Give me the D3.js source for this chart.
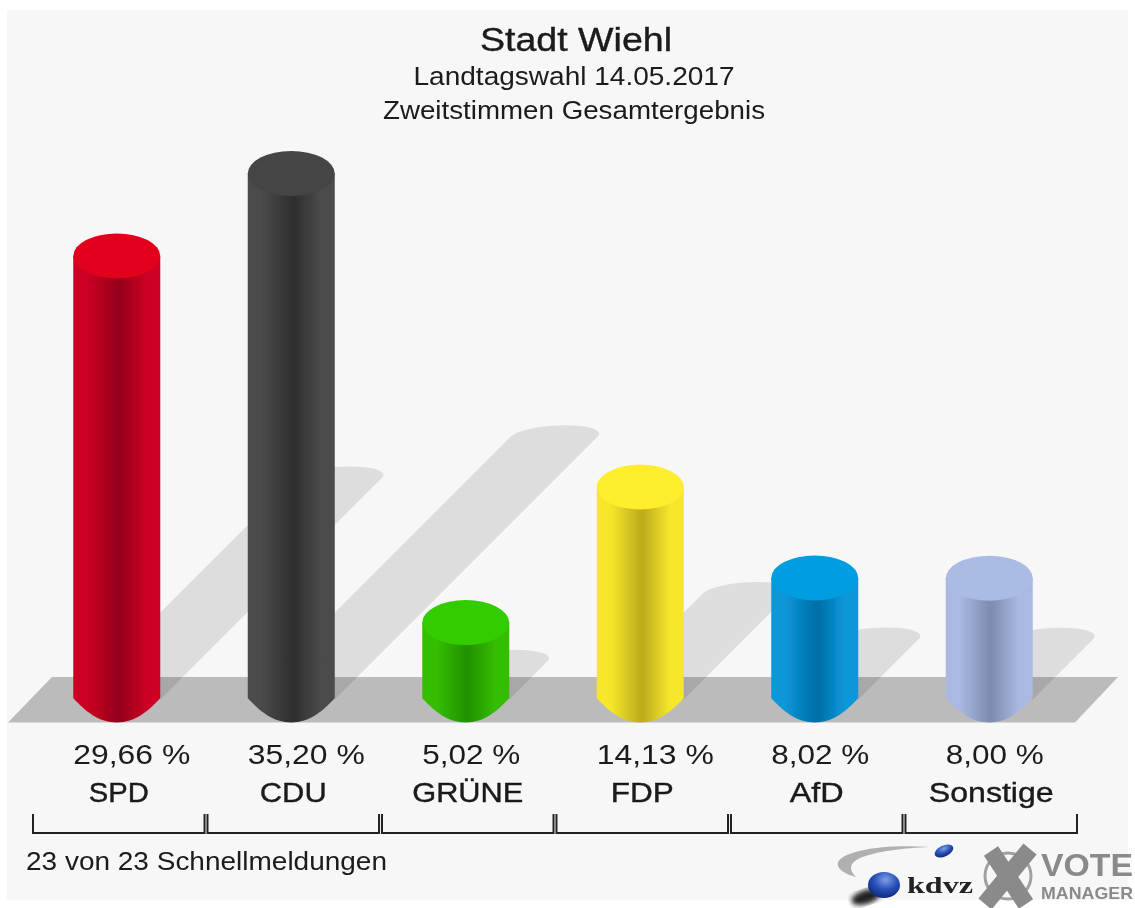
<!DOCTYPE html>
<html>
<head>
<meta charset="utf-8">
<script src="https://cdn.jsdelivr.net/npm/d3@7"></script>
<style>
    html, body { margin: 0; padding: 0; background: #fff; }
    svg { display: block; }
    text { font-family: "Liberation Sans", Arial, sans-serif; fill: #1a1a1a; }
</style>
</head>
<body>
<div id="chart"></div>
<script>
// values
const parties = ["SPD", "CDU", "GRÜNE", "FDP", "AfD", "Sonstige"];
const shares = [29.66, 35.20, 5.02, 14.13, 8.02, 8.00];
const titleLines = ["Stadt Wiehl", "Landtagswahl 14.05.2017", "Zweitstimmen Gesamtergebnis"];
const footerText = "23 von 23 Schnellmeldungen";

// cylinder colours: top, side edge, side centre
const capColors = ["#e2001f", "#454545", "#33cc00", "#ffee2e", "#009ee0", "#aabbe6"];
const edgeColors = ["#cc0022", "#4b4b4b", "#35bd02", "#f6e72b", "#0a96d8", "#a9b9e2"];
const darkColors = ["#97001a", "#2f2f2f", "#229300", "#bfad1e", "#0070a8", "#7f8db0"];

// text widths in the picture, its lettering runs wider than Liberation
const partyWidths = [60, 67, 111, 63, 54, 125];
const subtitleWidths = [321, 382];

const width = 1135, height = 908;
const baseY = 699.5;  // centre of the bottom ellipse
const rx = 43.5, ry = 22.5;

const svg = d3.select("#chart").append("svg")
    .attr("width", width)
    .attr("height", height);

const defs = svg.append("defs");

//the reference is an upscaled small image, everything is a bit soft
defs.append("filter").attr("id", "page")
    .attr("filterUnits", "userSpaceOnUse")
    .attr("x", 0).attr("y", 0).attr("width", width).attr("height", height)
    .append("feGaussianBlur").attr("stdDeviation", 0.7);
defs.append("filter").attr("id", "soft")
    .append("feGaussianBlur").attr("stdDeviation", 2.5);

svg.append("rect")
    .attr("x", 7).attr("y", 10)
    .attr("width", 1121).attr("height", 890)
    .attr("fill", "#f7f7f7");

const root = svg.append("g").attr("filter", "url(#page)");

//scales
const xBand = d3.scaleBand()
    .domain(parties)
    .range([31.5, 1075.5])
    .paddingInner(0.017);

const yScale = d3.scaleLinear()
    .domain([0, 35.2])
    .range([697.3, 173.5]);

const colorIndex = d3.scaleOrdinal().domain(parties).range(d3.range(parties.length));
const barCenter = d => xBand(d) + xBand.bandwidth() / 2 - 0.5;
const shareOf = d => shares[parties.indexOf(d)];
const fmt = d3.formatLocale({ decimal: ",", thousands: ".", grouping: [3], currency: ["", "€"] }).format(".2f");

//floor band
root.append("path")
    .attr("d", "M8,722.5 L52,677 L1118,677 L1075,722.5 Z")
    .attr("fill", "#bbbbbb");

//shadows, the cylinder outline sheared to the right
const outline = h => `M${-rx},${-h} A${rx},${ry} 0 0 1 ${rx},${-h} L${rx},0 L${-rx},0 Z`;

root.append("g").selectAll("path")
    .data(parties)
    .join("path")
    .attr("d", d => outline(baseY - yScale(shareOf(d))))
    .attr("transform", d => `translate(${barCenter(d)},${baseY}) matrix(1,0,-0.5,0.5,0,0)`)
    .attr("fill", "#000")
    .attr("fill-opacity", 0.1);

//gradients
parties.forEach((p, i) => {
    let gradient = defs.append("linearGradient").attr("id", `side-${i}`);
    [[0, edgeColors[i]], [0.16, edgeColors[i]], [0.5, darkColors[i]], [0.54, darkColors[i]], [0.84, edgeColors[i]], [1, edgeColors[i]]]
        .forEach(s => gradient.append("stop").attr("offset", s[0]).attr("stop-color", s[1]));
});

const bars = root.append("g").selectAll("g")
    .data(parties)
    .join("g")
    .attr("transform", d => `translate(${barCenter(d)},0)`);

bars.append("path")
    .attr("d", d => `M${-rx},${yScale(shareOf(d))} L${rx},${yScale(shareOf(d))} L${rx},698 `
        + `C32,711 18,722.5 0,722.5 C-18,722.5 -32,711 ${-rx},698 Z`)
    .attr("fill", d => `url(#side-${colorIndex(d)})`);

bars.append("ellipse")
    .attr("cy", d => yScale(shareOf(d)))
    .attr("rx", rx)
    .attr("ry", ry)
    .attr("fill", d => capColors[colorIndex(d)]);

//value labels start at the bar's left edge
root.append("g").selectAll("text")
    .data(parties)
    .join("text")
    .attr("x", d => barCenter(d) - 43.5)
    .attr("y", 764)
    .attr("font-size", 27)
    .attr("textLength", d => (shareOf(d) >= 10 ? 117 : 98))
    .attr("lengthAdjust", "spacingAndGlyphs")
    .text(d => `${fmt(shareOf(d))} %`);

root.append("g").selectAll("text")
    .data(parties)
    .join("text")
    .attr("x", (d, i) => barCenter(d) + 2 - partyWidths[i] / 2)
    .attr("y", 802)
    .attr("font-size", 27.5)
    .attr("stroke", "#1a1a1a")
    .attr("stroke-width", 0.4)
    .attr("textLength", (d, i) => partyWidths[i])
    .attr("lengthAdjust", "spacingAndGlyphs")
    .text(d => d);

//brackets
root.append("g").selectAll("path")
    .data(parties)
    .join("path")
    .attr("d", d => {
        let x0 = xBand(d) + 1.5, x1 = xBand(d) + xBand.bandwidth() + 1.5;
        return `M${x0},814 V833 H${x1} V814`;
    })
    .attr("fill", "none")
    .attr("stroke", "#222")
    .attr("stroke-width", 2);

//titles
root.append("text")
    .attr("x", 480).attr("y", 51)
    .attr("font-size", 34)
    .attr("stroke", "#1a1a1a")
    .attr("stroke-width", 0.4)
    .attr("textLength", 192)
    .attr("lengthAdjust", "spacingAndGlyphs")
    .text(titleLines[0]);

root.append("g").selectAll("text")
    .data(titleLines.slice(1))
    .join("text")
    .attr("x", (d, i) => 574 - subtitleWidths[i] / 2)
    .attr("y", (d, i) => 85 + i * 34)
    .attr("font-size", 26.5)
    .attr("textLength", (d, i) => subtitleWidths[i])
    .attr("lengthAdjust", "spacingAndGlyphs")
    .text(d => d);

root.append("text")
    .attr("x", 26).attr("y", 870)
    .attr("font-size", 26.5)
    .attr("textLength", 361)
    .attr("lengthAdjust", "spacingAndGlyphs")
    .text(footerText);

//logos
defs.append("radialGradient").attr("id", "sphere")
    .attr("cx", "0.55").attr("cy", "0.3").attr("r", "0.75")
    .call(g => {
        g.append("stop").attr("offset", 0).attr("stop-color", "#7f9fe6");
        g.append("stop").attr("offset", 0.5).attr("stop-color", "#2850b8");
        g.append("stop").attr("offset", 1).attr("stop-color", "#0d2470");
    });

const logo = root.append("g");

logo.append("path")
    .attr("d", "M930,847 C885,844 845,850 838,862 C836,869 845,874 856,877 C849,870 849,864 858,859 C875,851 905,848 930,847 Z")
    .attr("fill", "#b0b0b0");
logo.append("ellipse")
    .attr("cx", 866).attr("cy", 897).attr("rx", 15).attr("ry", 7)
    .attr("transform", "rotate(-18 866 897)")
    .attr("fill", "#222").attr("filter", "url(#soft)");
logo.append("ellipse")
    .attr("cx", 884).attr("cy", 885).attr("rx", 16).attr("ry", 13)
    .attr("fill", "url(#sphere)");
logo.append("ellipse")
    .attr("cx", 944).attr("cy", 851).attr("rx", 10).attr("ry", 5.5)
    .attr("transform", "rotate(-25 944 851)")
    .attr("fill", "url(#sphere)");
logo.append("text")
    .attr("x", 907).attr("y", 893)
    .attr("font-weight", "bold")
    .attr("font-size", 23)
    .attr("textLength", 66)
    .attr("lengthAdjust", "spacingAndGlyphs")
    .style("font-family", "Liberation Serif")
    .style("fill", "#222")
    .text("kdvz");

logo.append("circle")
    .attr("cx", 1008).attr("cy", 876).attr("r", 23)
    .attr("fill", "none").attr("stroke", "#a0a0a0").attr("stroke-width", 3);
logo.append("path")
    .attr("d", "M991,851 L1026,904 M1030,849 L985,904")
    .attr("stroke", "#8a8a8a").attr("stroke-width", 17).attr("fill", "none");
logo.append("text")
    .attr("x", 1041).attr("y", 876)
    .attr("font-size", 31).attr("font-weight", "bold")
    .attr("textLength", 92).attr("lengthAdjust", "spacingAndGlyphs")
    .style("fill", "#8a8a8a")
    .text("VOTE");
logo.append("text")
    .attr("x", 1041).attr("y", 899)
    .attr("font-size", 17).attr("font-weight", "bold")
    .attr("textLength", 92).attr("lengthAdjust", "spacingAndGlyphs")
    .style("fill", "#8a8a8a")
    .text("MANAGER");
</script>
</body>
</html>
